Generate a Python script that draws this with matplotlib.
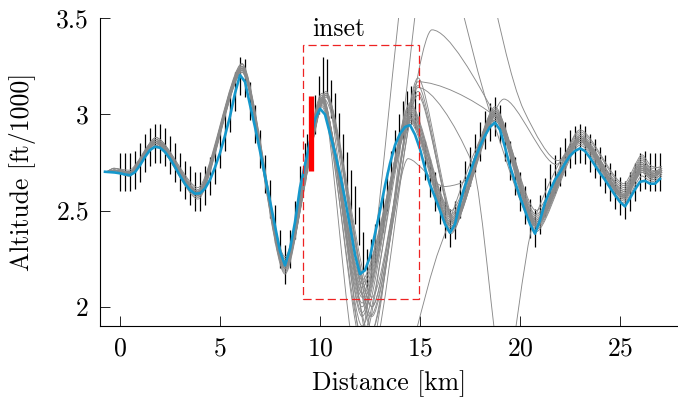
import matplotlib.pyplot as plt
import numpy as np
from matplotlib.path import Path
from matplotlib.patches import PathPatch, Rectangle

plt.rcParams['font.family'] = 'serif'
plt.rcParams['font.serif'] = ['cmr10']
plt.rcParams['mathtext.fontset'] = 'cm'
plt.rcParams['axes.unicode_minus'] = False
plt.rcParams['axes.formatter.use_mathtext'] = True

FONT_SIZE = 18.5
GREY = '#8a8a8a'

# estimated track (blue), every 0.25 km
track_km = [-0.75, -0.5, -0.25, 0.0, 0.25, 0.5, 0.75, 1.0, 1.25, 1.5, 1.75, 2.0, 2.25, 2.5, 2.75,
            3.0, 3.25, 3.5, 3.75, 4.0, 4.25, 4.5, 4.75, 5.0, 5.25, 5.5, 5.75, 6.0, 6.25, 6.5, 6.75,
            7.0, 7.25, 7.5, 7.75, 8.0, 8.25, 8.5, 8.75, 9.0, 9.25, 9.5, 9.75, 10.0, 10.25, 10.5, 10.75,
            11.0, 11.25, 11.5, 11.75, 12.0, 12.25, 12.5, 12.75, 13.0, 13.25, 13.5, 13.75, 14.0, 14.25,
            14.5, 14.75, 15.0, 15.25, 15.5, 15.75, 16.0, 16.25, 16.5, 16.75, 17.0, 17.25, 17.5, 17.75,
            18.0, 18.25, 18.5, 18.75, 19.0, 19.25, 19.5, 19.75, 20.0, 20.25, 20.5, 20.75, 21.0, 21.25,
            21.5, 21.75, 22.0, 22.25, 22.5, 22.75, 23.0, 23.25, 23.5, 23.75, 24.0, 24.25, 24.5, 24.75,
            25.0, 25.25, 25.5, 25.75, 26.0, 26.25, 26.5, 26.75, 27.0]
track_alt = [2.702, 2.700, 2.698, 2.694, 2.688, 2.684, 2.700, 2.736, 2.779, 2.815, 2.832, 2.827, 2.805, 2.770, 2.727,
             2.681, 2.639, 2.607, 2.588, 2.590, 2.615, 2.660, 2.725, 2.800, 2.890, 2.990, 3.110, 3.205, 3.170, 3.050, 2.935,
             2.810, 2.680, 2.550, 2.420, 2.290, 2.215, 2.300, 2.440, 2.620, 2.740, 2.860, 2.975, 3.030, 3.000, 2.900, 2.800,
             2.690, 2.560, 2.420, 2.270, 2.170, 2.190, 2.260, 2.380, 2.500, 2.630, 2.745, 2.840, 2.900, 2.935,
             2.945, 2.895, 2.820, 2.720, 2.635, 2.570, 2.500, 2.430, 2.385, 2.430, 2.540, 2.630, 2.700, 2.770,
             2.835, 2.890, 2.935, 2.958, 2.920, 2.830, 2.730, 2.650, 2.570, 2.500, 2.430, 2.380, 2.450, 2.540,
             2.605, 2.660, 2.700, 2.745, 2.785, 2.810, 2.824, 2.810, 2.775, 2.735, 2.695, 2.660, 2.620, 2.580,
             2.545, 2.522, 2.565, 2.610, 2.650, 2.655, 2.640, 2.640, 2.665]

# measurements with error bars
meas_km = [0.0, 0.25, 0.5, 0.75, 1.0, 1.25, 1.5, 1.75, 2.0, 2.25, 2.5, 2.75, 3.0, 3.25, 3.5, 3.75,
           4.0, 4.25, 4.5, 4.75, 5.0, 5.25, 5.5, 5.75, 6.0, 6.25, 6.5, 6.75, 7.0, 7.25, 7.5, 7.75,
           8.0, 8.25, 8.5, 8.75, 9.0, 9.25, 9.35, 9.75, 9.95, 10.15, 10.35, 10.55, 10.75, 10.95,
           11.15, 11.35, 11.55, 11.75, 11.95, 12.15, 12.35, 12.55, 12.75, 12.95, 13.15, 13.35, 13.55,
           13.75, 13.95, 14.15, 14.35, 14.55, 14.75, 14.95, 15.25, 15.5, 15.75, 16.0, 16.25, 16.5,
           16.75, 17.0, 17.25, 17.5, 17.75, 18.0, 18.25, 18.5, 18.75, 19.0, 19.25, 19.5, 19.75, 20.0,
           20.25, 20.5, 20.75, 21.0, 21.25, 21.5, 21.75, 22.0, 22.25, 22.5, 22.75, 23.0, 23.25, 23.5,
           23.75, 24.0, 24.25, 24.5, 24.75, 25.0, 25.25, 25.5, 25.75, 26.0, 26.25, 26.5, 26.75, 27.0]
meas_alt = [2.70, 2.70, 2.70, 2.71, 2.75, 2.80, 2.83, 2.85, 2.85, 2.83, 2.79, 2.75, 2.70, 2.66, 2.63, 2.60,
            2.60, 2.63, 2.68, 2.74, 2.82, 2.91, 3.01, 3.12, 3.20, 3.19, 3.07, 2.95, 2.82, 2.69, 2.56, 2.43,
            2.30, 2.22, 2.30, 2.45, 2.63, 2.75, 2.80, 3.00, 3.10, 3.20, 3.19, 3.08, 3.01, 2.91,
            2.80, 2.705, 2.61, 2.53, 2.42, 2.29, 2.20, 2.25, 2.33, 2.42, 2.49, 2.60, 2.71,
            2.82, 2.90, 2.97, 3.02, 3.05, 3.03, 2.96, 2.76, 2.67, 2.60, 2.53, 2.46, 2.41,
            2.45, 2.56, 2.66, 2.73, 2.80, 2.86, 2.92, 2.96, 2.99, 2.95, 2.86, 2.76, 2.68, 2.60,
            2.53, 2.46, 2.41, 2.48, 2.57, 2.64, 2.69, 2.73, 2.78, 2.82, 2.84, 2.85, 2.84, 2.80,
            2.77, 2.73, 2.69, 2.65, 2.61, 2.575, 2.555, 2.60, 2.65, 2.70, 2.71, 2.70, 2.70, 2.70]
ALT_ERROR = 0.1

# the flagged measurement (red)
flag_km = [9.57]
flag_alt = [2.90]
FLAG_ERROR = 0.195

# particle tracks (grey), turning points of each
band_km_a = [-0.7, -0.3, 0.45, 1.8, 3.9, 6.1, 8.25, 10.1, 12.1, 14.5, 16.55, 18.75, 20.8, 23.0, 25.2, 26.1, 26.6, 27.1]
band_alt_a = [
    [2.70, 2.71, 2.69, 2.85, 2.58, 3.23, 2.20, 3.07, 2.10, 2.98, 2.40, 2.99, 2.40, 2.85, 2.55, 2.70, 2.66, 2.69],
    [2.70, 2.72, 2.70, 2.87, 2.60, 3.25, 2.23, 3.09, 2.05, 3.00, 2.42, 3.00, 2.42, 2.87, 2.57, 2.72, 2.68, 2.70],
    [2.70, 2.70, 2.68, 2.84, 2.57, 3.22, 2.18, 3.05, 2.00, 2.96, 2.39, 2.97, 2.39, 2.84, 2.54, 2.68, 2.65, 2.68],
    [2.70, 2.71, 2.70, 2.88, 2.61, 3.26, 2.25, 3.10, 1.95, 3.02, 2.45, 3.02, 2.44, 2.89, 2.58, 2.74, 2.70, 2.71],
    [2.70, 2.70, 2.69, 2.86, 2.59, 3.24, 2.21, 3.08, 2.12, 2.99, 2.41, 2.99, 2.46, 2.86, 2.56, 2.71, 2.67, 2.72],
    [2.70, 2.72, 2.71, 2.88, 2.62, 3.265, 2.26, 3.11, 1.90, 3.04, 2.47, 3.03, 2.48, 2.90, 2.60, 2.76, 2.72, 2.73],
    [2.70, 2.71, 2.69, 2.85, 2.57, 3.23, 2.19, 3.06, 2.14, 2.97, 2.44, 2.98, 2.43, 2.88, 2.62, 2.78, 2.71, 2.70],
    [2.70, 2.70, 2.68, 2.84, 2.56, 3.22, 2.17, 3.04, 1.85, 2.98, 2.50, 3.01, 2.50, 2.91, 2.63, 2.75, 2.69, 2.70],
    [2.70, 2.71, 2.70, 2.87, 2.60, 3.25, 2.24, 3.09, 2.07, 3.01, 2.38, 3.04, 2.41, 2.86, 2.59, 2.73, 2.67, 2.71],
    [2.70, 2.72, 2.70, 2.86, 2.59, 3.24, 2.22, 3.08, 2.02, 3.03, 2.43, 3.00, 2.45, 2.92, 2.64, 2.79, 2.73, 2.72],
    [2.70, 2.70, 2.69, 2.85, 2.60, 3.23, 2.20, 3.07, 1.97, 3.05, 2.46, 2.99, 2.44, 2.87, 2.57, 2.70, 2.66, 2.69],
    [2.70, 2.71, 2.70, 2.86, 2.58, 3.24, 2.21, 3.08, 1.80, 3.06, 2.48, 3.02, 2.47, 2.88, 2.61, 2.77, 2.70, 2.72],
]
band_km_b = [-0.7, -0.3, 0.45, 1.8, 3.9, 6.1, 8.25, 10.3, 12.6, 14.9, 16.7, 18.75, 20.8, 23.0, 25.2, 26.1, 26.6, 27.1]
band_alt_b = [
    [2.70, 2.71, 2.69, 2.86, 2.59, 3.24, 2.22, 3.10, 2.00, 3.15, 2.44, 3.00, 2.42, 2.87, 2.58, 2.72, 2.68, 2.70],
    [2.70, 2.70, 2.70, 2.87, 2.60, 3.25, 2.23, 3.12, 1.88, 3.19, 2.46, 3.01, 2.44, 2.88, 2.59, 2.74, 2.69, 2.71],
    [2.70, 2.71, 2.69, 2.85, 2.58, 3.23, 2.21, 3.09, 1.75, 3.12, 2.43, 2.99, 2.43, 2.86, 2.57, 2.71, 2.67, 2.70],
    [2.70, 2.71, 2.70, 2.86, 2.59, 3.24, 2.22, 3.11, 2.05, 3.10, 2.45, 3.02, 2.45, 2.89, 2.60, 2.75, 2.70, 2.72],
]

# tracks that run away after the inset
stray_km = [
    [-0.7, -0.3, 0.45, 1.8, 3.9, 6.1, 8.25, 10.1, 11.8, 15.0, 18.6, 20.8, 23.0, 25.2, 26.1, 26.6, 27.1],
    [-0.7, -0.3, 0.45, 1.8, 3.9, 6.1, 8.25, 10.3, 12.3, 16.3, 20.2, 21.9, 23.0, 25.2, 26.1, 26.6, 27.1],
    [-0.7, -0.3, 0.45, 1.8, 3.9, 6.1, 8.25, 10.1, 12.2, 14.5, 16.55, 19.2, 21.8, 23.0, 25.2, 26.1, 26.6, 27.1],
    [-0.7, -0.3, 0.45, 1.8, 3.9, 6.1, 8.25, 10.1, 12.5, 14.4, 16.2, 17.1, 18.75, 20.8, 23.0, 25.2, 26.1, 26.6, 27.1],
    [-0.7, -0.3, 0.45, 1.8, 3.9, 6.1, 8.25, 10.3, 12.6, 14.9, 17.6, 19.2, 20.7, 23.0, 25.2, 26.1, 26.6, 27.1],
    [-0.7, -0.3, 0.45, 1.8, 3.9, 6.1, 8.25, 10.2, 13.5, 16.0, 18.75, 20.8, 23.0, 25.2, 26.1, 26.6, 27.1],
    [-0.7, -0.3, 0.45, 1.8, 3.9, 6.1, 8.25, 10.3, 12.5, 15.6, 18.9, 20.8, 23.0, 25.2, 26.1, 26.6, 27.1],
    [-0.7, -0.3, 0.45, 1.8, 3.9, 6.1, 8.25, 10.3, 12.6, 14.9, 18.9, 20.8, 23.0, 25.2, 26.1, 26.6, 27.1],
]
stray_alt = [
    [2.70, 2.71, 2.70, 2.86, 2.59, 3.24, 2.22, 3.08, 1.75, 4.20, 2.98, 2.42, 2.86, 2.56, 2.71, 2.67, 2.70],
    [2.70, 2.70, 2.69, 2.85, 2.58, 3.23, 2.20, 3.10, 1.70, 4.50, 3.02, 2.76, 2.86, 2.57, 2.72, 2.68, 2.71],
    [2.70, 2.71, 2.70, 2.87, 2.60, 3.25, 2.23, 3.07, 2.05, 2.98, 2.42, 3.08, 2.74, 2.87, 2.58, 2.74, 2.69, 2.71],
    [2.70, 2.70, 2.70, 2.86, 2.59, 3.24, 2.21, 3.07, 1.85, 2.77, 2.625, 2.645, 2.99, 2.43, 2.88, 2.58, 2.73, 2.69, 2.71],
    [2.70, 2.71, 2.69, 2.86, 2.60, 3.24, 2.22, 3.10, 1.95, 3.14, 2.75, 1.60, 2.45, 2.87, 2.58, 2.72, 2.68, 2.70],
    [2.70, 2.70, 2.69, 2.85, 2.59, 3.23, 2.21, 3.08, 1.50, 2.31, 2.97, 2.42, 2.86, 2.57, 2.71, 2.68, 2.70],
    [2.70, 2.71, 2.70, 2.86, 2.60, 3.25, 2.23, 3.11, 1.95, 3.44, 2.97, 2.42, 2.87, 2.58, 2.73, 2.69, 2.71],
    [2.70, 2.70, 2.69, 2.85, 2.59, 3.24, 2.22, 3.10, 2.00, 3.17, 2.98, 2.43, 2.87, 2.58, 2.72, 2.68, 2.70],
]

# inset window
inset_km = [9.17, 14.97]
inset_alt = [2.04, 3.36]

x_ticks = [0, 5, 10, 15, 20, 25]
y_ticks = [2, 2.5, 3, 3.5]
y_tick_labels = ['2', '2.5', '3', '3.5']


def smoothTrack(km, alt):
    # monotone cubic through the turning points, drawn as bezier segments
    km = np.asarray(km, dtype=float)
    alt = np.asarray(alt, dtype=float)
    h = np.diff(km)
    slope = np.diff(alt) / h
    tangent = np.zeros(len(km))
    handle = np.full(len(km), 0.25)
    tangent[0] = slope[0]
    tangent[-1] = slope[-1]
    for i in range(1, len(km) - 1):
        if slope[i - 1] * slope[i] > 0:
            tangent[i] = 2 * slope[i - 1] * slope[i] / (slope[i - 1] + slope[i])
            handle[i] = 1 / 3
    verts = [(km[0], alt[0])]
    codes = [Path.MOVETO]
    for i in range(len(h)):
        a = handle[i] * h[i]
        b = handle[i + 1] * h[i]
        verts.append((km[i] + a, alt[i] + tangent[i] * a))
        verts.append((km[i + 1] - b, alt[i + 1] - tangent[i + 1] * b))
        verts.append((km[i + 1], alt[i + 1]))
        codes += [Path.CURVE4] * 3
    return Path(verts, codes)


fig = plt.figure(figsize=(6.78, 4.03), dpi=100)
ax = fig.add_axes([100 / 678, 77 / 403, 578 / 678, 307.7 / 403])

ax.errorbar(meas_km, meas_alt, yerr=ALT_ERROR, fmt='none', ecolor='black', elinewidth=0.9, capsize=0, zorder=2)

for alt in band_alt_a:
    ax.add_patch(PathPatch(smoothTrack(band_km_a, alt), fill=False, edgecolor=GREY, linewidth=0.65, zorder=3))
for alt in band_alt_b:
    ax.add_patch(PathPatch(smoothTrack(band_km_b, alt), fill=False, edgecolor=GREY, linewidth=0.65, zorder=3))
for km, alt in zip(stray_km, stray_alt):
    ax.add_patch(PathPatch(smoothTrack(km, alt), fill=False, edgecolor=GREY, linewidth=0.65, zorder=3))

ax.plot(track_km, track_alt, color='#1598cc', linewidth=1.9, zorder=4)

ax.errorbar(flag_km, flag_alt, yerr=FLAG_ERROR, fmt='none', ecolor='red', elinewidth=3.8, capsize=0, zorder=5)

box = Rectangle((inset_km[0], inset_alt[0]), inset_km[1] - inset_km[0], inset_alt[1] - inset_alt[0],
                fill=False, edgecolor='#ee2222', linewidth=0.9, linestyle=(0, (6.5, 3.2)), zorder=5)
ax.add_patch(box)
ax.text(inset_km[0] + 0.45, inset_alt[1] + 0.05, 'inset', fontsize=FONT_SIZE, ha='left', va='baseline')

ax.set_xlim(-1, 27.9)
ax.set_ylim(1.9, 3.5)
ax.set_xticks(x_ticks)
ax.set_yticks(y_ticks)
ax.set_yticklabels(y_tick_labels)
ax.spines['top'].set_visible(False)
ax.spines['right'].set_visible(False)
ax.tick_params(direction='in', length=7, width=0.6, labelsize=FONT_SIZE, pad=8)
ax.set_xlabel('Distance [km]', fontsize=FONT_SIZE)
ax.set_ylabel('Altitude [ft/1000]', fontsize=FONT_SIZE)
ax.xaxis.set_label_coords(0.5, -0.145)
ax.yaxis.set_label_coords(-0.11, 0.5)

plt.savefig('out.png', dpi=100)
